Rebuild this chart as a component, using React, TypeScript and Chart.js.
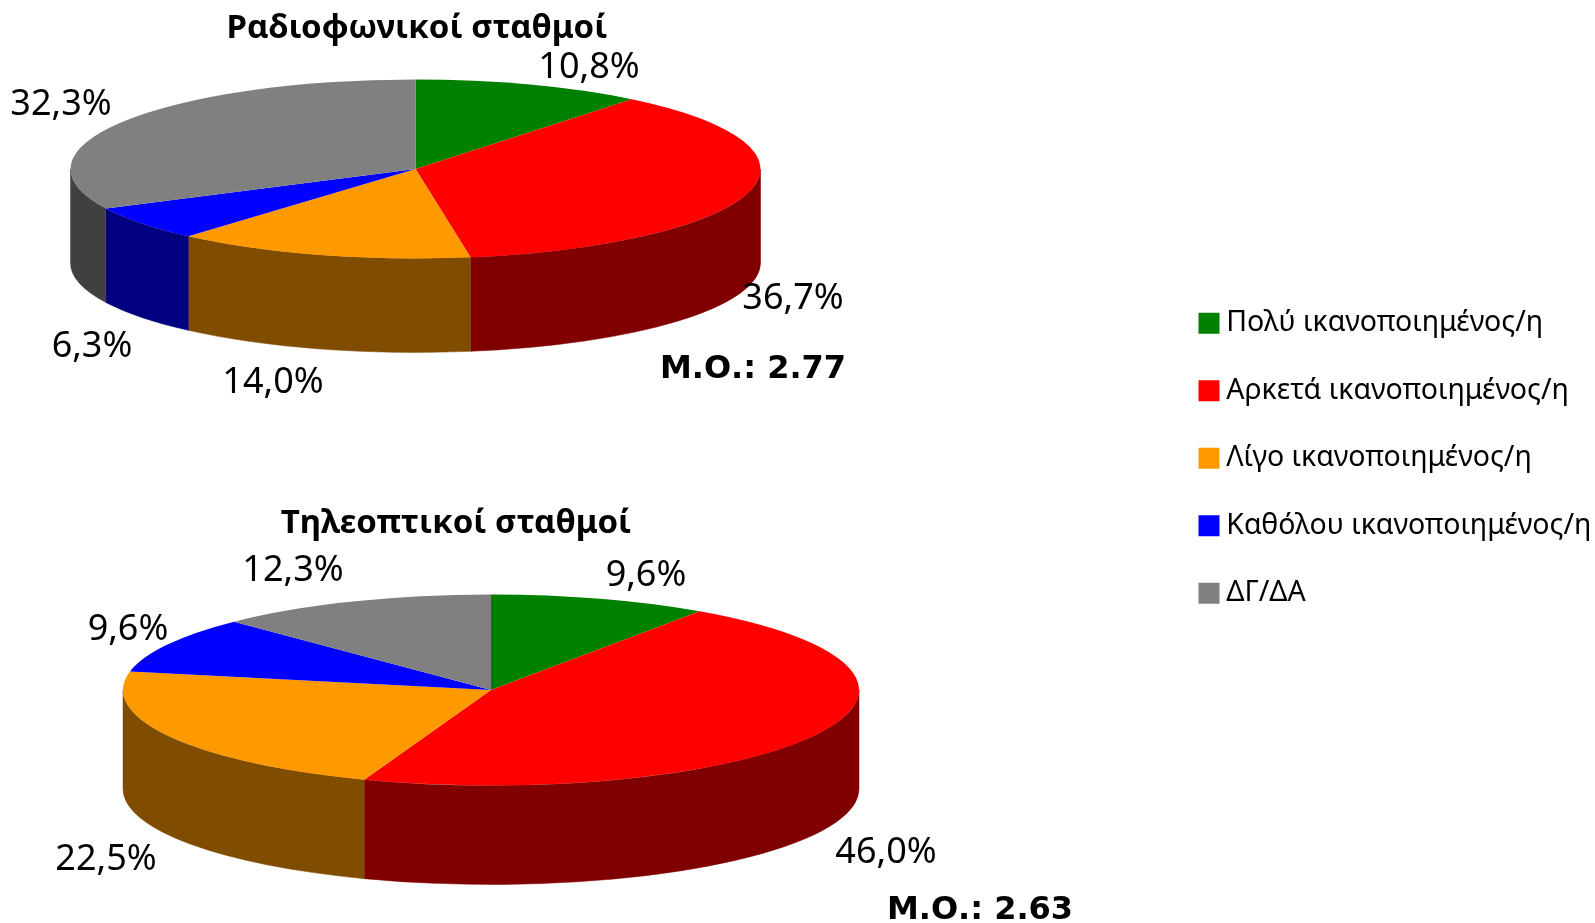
import React, { useEffect, useRef } from "react";
import { Chart, registerables } from "chart.js";

Chart.register(...registerables);

const categories = [
  "Πολύ ικανοποιημένος/η",
  "Αρκετά ικανοποιημένος/η",
  "Λίγο ικανοποιημένος/η",
  "Καθόλου ικανοποιημένος/η",
  "ΔΓ/ΔΑ",
];
const radioValues = [10.8, 36.7, 14.0, 6.3, 32.3];
const tvValues = [9.6, 46.0, 22.5, 9.6, 12.3];
const topColors = ["#008000", "#FF0000", "#FF9900", "#0000FF", "#808080"];
const sideColors = ["#004000", "#800000", "#804D00", "#000080", "#404040"];
const radioTitle = "Ραδιοφωνικοί σταθμοί";
const tvTitle = "Τηλεοπτικοί σταθμοί";
const radioMean = "Μ.Ο.: 2.77";
const tvMean = "Μ.Ο.: 2.63";

const LABEL_FONT = '36px "Noto Sans"';
const MEAN_FONT = 'bold 32px "DejaVu Sans"';
const TITLE_FAMILY = '"Noto Sans"';

const pct = (v: number) => v.toFixed(1).replace(".", ",") + "%";

type PieConf = {
  left: number;
  top: number;
  width: number;
  height: number;
  titlePadTop: number;
  cx: number;
  cy: number;
  rx: number;
  ry: number;
  depth: number;
  labelPos: [number, number][];
  mean: string;
  meanPos: [number, number];
};

const radioConf: PieConf = {
  left: -33,
  top: 0,
  width: 900,
  height: 440,
  titlePadTop: 9,
  cx: 415.5,
  cy: 169,
  rx: 345,
  ry: 89.5,
  depth: 94,
  labelPos: [
    [589, 68],
    [793, 299],
    [273, 383],
    [92, 347],
    [61, 105],
  ],
  mean: radioMean,
  meanPos: [753, 370],
};

const tvConf: PieConf = {
  left: -174,
  top: 440,
  width: 1260,
  height: 483,
  titlePadTop: 64,
  cx: 491,
  cy: 690,
  rx: 368,
  ry: 95.5,
  depth: 99,
  labelPos: [
    [646, 576],
    [886, 853],
    [106, 860],
    [128, 630],
    [293, 571],
  ],
  mean: tvMean,
  meanPos: [980, 911],
};

function piePlugin(conf: PieConf) {
  return {
    id: "pie3d",
    beforeDatasetsDraw(chart: any) {
      const ctx = chart.ctx;
      const arcs = chart.getDatasetMeta(0).data;
      const cx = conf.cx - conf.left;
      const cy = conf.cy - conf.top;
      ctx.save();
      arcs.forEach((arc: any, i: number) => {
        const lo = Math.max(arc.startAngle, 0);
        const hi = Math.min(arc.endAngle, Math.PI);
        if (hi <= lo) return;
        ctx.beginPath();
        ctx.ellipse(cx, cy, conf.rx, conf.ry, 0, lo, hi, false);
        ctx.ellipse(cx, cy + conf.depth, conf.rx, conf.ry, 0, hi, lo, true);
        ctx.closePath();
        ctx.fillStyle = sideColors[i];
        ctx.strokeStyle = sideColors[i];
        ctx.lineWidth = 0.5;
        ctx.fill();
        ctx.stroke();
      });
      ctx.translate(cx, cy);
      ctx.scale(1, conf.ry / conf.rx);
      ctx.translate(-arcs[0].x, -arcs[0].y);
    },
    afterDatasetsDraw(chart: any) {
      chart.ctx.restore();
    },
    afterDraw(chart: any) {
      const ctx = chart.ctx;
      const values = chart.data.datasets[0].data as number[];
      ctx.save();
      ctx.fillStyle = "#000";
      ctx.textAlign = "center";
      ctx.textBaseline = "middle";
      ctx.font = LABEL_FONT;
      values.forEach((v, i) => {
        const [x, y] = conf.labelPos[i];
        ctx.fillText(pct(v), x - conf.left, y - conf.top);
      });
      ctx.font = MEAN_FONT;
      ctx.fillText(conf.mean, conf.meanPos[0] - conf.left, conf.meanPos[1] - conf.top);
      ctx.restore();
    },
  };
}

function makePie(canvas: HTMLCanvasElement, conf: PieConf, title: string, values: number[]) {
  return new Chart(canvas, {
    type: "pie",
    data: {
      labels: categories,
      datasets: [
        {
          data: values,
          backgroundColor: topColors,
          borderWidth: 0,
          radius: conf.rx,
          clip: false,
        } as any,
      ],
    },
    options: {
      responsive: false,
      animation: false,
      plugins: {
        legend: { display: false },
        tooltip: { enabled: false },
        title: {
          display: true,
          text: title,
          color: "#000",
          font: { family: TITLE_FAMILY, size: 33, weight: "bold", lineHeight: 1.2 },
          padding: { top: conf.titlePadTop, bottom: 0 },
        },
      },
    },
    plugins: [piePlugin(conf)],
  });
}

function makeLegend(canvas: HTMLCanvasElement) {
  return new Chart(canvas, {
    type: "pie",
    data: {
      labels: categories,
      datasets: [{ data: radioValues, backgroundColor: topColors, borderWidth: 0, radius: 0 } as any],
    },
    options: {
      responsive: false,
      animation: false,
      plugins: {
        tooltip: { enabled: false },
        legend: {
          display: true,
          position: "top",
          align: "start",
          labels: {
            color: "#000",
            font: { family: '"Noto Sans"', size: 28.5 },
            boxWidth: 6,
            boxHeight: 6,
            padding: 39,
            generateLabels(chart: any) {
              const base = Chart.overrides.pie.plugins.legend.labels.generateLabels(chart);
              return base.map((item: any) => ({
                ...item,
                strokeStyle: item.fillStyle,
                lineWidth: 15,
              }));
            },
          },
        },
      },
    },
  });
}

export default function App() {
  const radioRef = useRef<HTMLCanvasElement>(null);
  const tvRef = useRef<HTMLCanvasElement>(null);
  const legendRef = useRef<HTMLCanvasElement>(null);

  useEffect(() => {
    document.body.style.margin = "0";
    const charts = [
      makePie(radioRef.current!, radioConf, radioTitle, radioValues),
      makePie(tvRef.current!, tvConf, tvTitle, tvValues),
      makeLegend(legendRef.current!),
    ];
    return () => charts.forEach((c) => c.destroy());
  }, []);

  const abs = (left: number, top: number): React.CSSProperties => ({
    position: "absolute",
    left,
    top,
    display: "block",
  });

  return (
    <div style={{ position: "relative", width: 1595, height: 923, overflow: "hidden", background: "#fff" }}>
      <canvas ref={radioRef} width={radioConf.width} height={radioConf.height} style={abs(radioConf.left, radioConf.top)} />
      <canvas ref={tvRef} width={tvConf.width} height={tvConf.height} style={abs(tvConf.left, tvConf.top)} />
      <canvas ref={legendRef} width={428} height={800} style={abs(1166.5, 269.75)} />
    </div>
  );
}
